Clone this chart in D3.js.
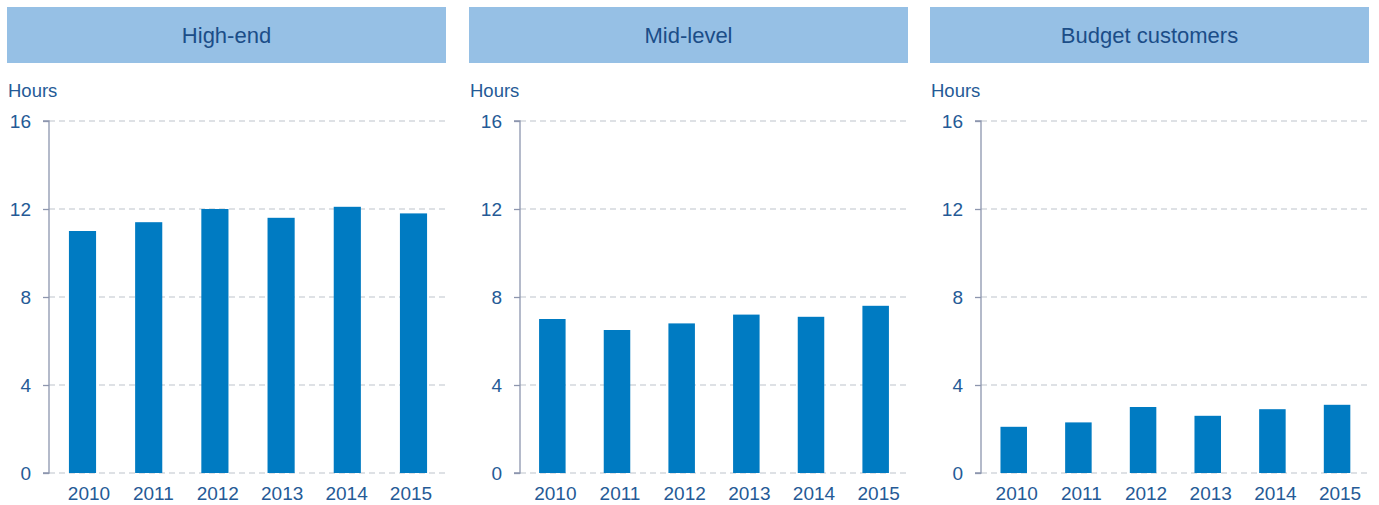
<!DOCTYPE html>
<html lang="en">
<head>
<meta charset="UTF-8">
<title>Hours by customer segment</title>
<style>
  body { margin: 0; background: #fff; }
  svg { display: block; font-family: "Liberation Sans", Arial, sans-serif; }
  .grid line { stroke: #d4d7dd; stroke-width: 1.3px; stroke-dasharray: 6,4; }
  .axis-line { stroke: #8d96ae; stroke-width: 1.3px; }
  .tick-lbl, .year-lbl, .unit { fill: #255a96; }
  .head-txt { fill: #1b4d88; }
</style>
</head>
<body>
<script src="https://d3js.org/d3.v7.min.js"></script>
<script>
// data
var years = ["2010", "2011", "2012", "2013", "2014", "2015"];
var segments = ["High-end", "Mid-level", "Budget customers"];
var highEnd = [11.0, 11.4, 12.0, 11.6, 12.1, 11.8];
var midLevel = [7.0, 6.5, 6.8, 7.2, 7.1, 7.6];
var budget = [2.1, 2.3, 3.0, 2.6, 2.9, 3.1];
var yTicks = [0, 4, 8, 12, 16];
var unitLabel = "Hours";

var W = 1379, H = 505;
var svg = d3.select("body").append("svg").attr("width", W).attr("height", H);

// per panel layout: header box, axis position, bar range, label range
var panels = [
  { name: segments[0], values: highEnd, left: 7, axisX: 49, right: 445, bars: [49.4, 446.6], labels: [56.8, 443.2], tickX: 31 },
  { name: segments[1], values: midLevel, left: 469, axisX: 520, right: 906, bars: [520, 908], labels: [523, 911], tickX: 502 },
  { name: segments[2], values: budget, left: 930, axisX: 981, right: 1367, bars: [981.4, 1369.4], labels: [984.4, 1372.4], tickX: 963 }
];

var y = d3.scaleLinear().domain([0, 16]).range([473, 121]);

panels.forEach(function (p) {
  var g = svg.append("g");

  // header
  g.append("rect")
    .attr("x", p.left).attr("y", 7)
    .attr("width", 439).attr("height", 56)
    .attr("fill", "#96c0e5");
  g.append("text")
    .attr("class", "head-txt")
    .attr("x", p.left + 219.5).attr("y", 43)
    .attr("text-anchor", "middle")
    .attr("font-size", "22px")
    .text(p.name);

  g.append("text")
    .attr("class", "unit")
    .attr("x", p.left + 1).attr("y", 97)
    .attr("font-size", "18.5px")
    .text(unitLabel);

  // grid
  g.append("g").attr("class", "grid")
    .selectAll("line").data(yTicks).join("line")
    .attr("x1", p.axisX).attr("x2", p.right)
    .attr("y1", function (d) { return y(d); })
    .attr("y2", function (d) { return y(d); });

  // y axis
  var yAxis = d3.axisLeft(y).tickValues(yTicks).tickSize(6).tickFormat("");
  var ax = g.append("g").attr("transform", "translate(" + p.axisX + ",0)").call(yAxis);
  ax.select(".domain").attr("class", "axis-line").attr("fill", "none")
    .attr("d", "M-6," + y(16) + "H0V" + y(0) + "H-6");
  ax.selectAll(".tick line").attr("stroke", "#8d96ae").attr("stroke-width", 1.3);

  g.selectAll(".tick-lbl").data(yTicks).join("text")
    .attr("class", "tick-lbl")
    .attr("x", p.tickX)
    .attr("y", function (d) { return y(d); })
    .attr("dy", "0.36em")
    .attr("text-anchor", "end")
    .attr("font-size", "19px")
    .text(function (d) { return d; });

  // bars
  var x = d3.scaleBand().domain(years).range(p.bars).paddingInner(0.59).paddingOuter(0.295);
  g.selectAll(".bar").data(p.values).join("rect")
    .attr("class", "bar")
    .attr("x", function (d, i) { return x(years[i]); })
    .attr("width", x.bandwidth())
    .attr("y", function (d) { return y(d); })
    .attr("height", function (d) { return y(0) - y(d); })
    .attr("fill", "#007bc2");

  var xl = d3.scaleBand().domain(years).range(p.labels);
  g.selectAll(".year-lbl").data(years).join("text")
    .attr("class", "year-lbl")
    .attr("x", function (d) { return xl(d) + xl.bandwidth() / 2; })
    .attr("y", 500)
    .attr("text-anchor", "middle")
    .attr("font-size", "19px")
    .text(function (d) { return d; });
});
</script>
</body>
</html>
